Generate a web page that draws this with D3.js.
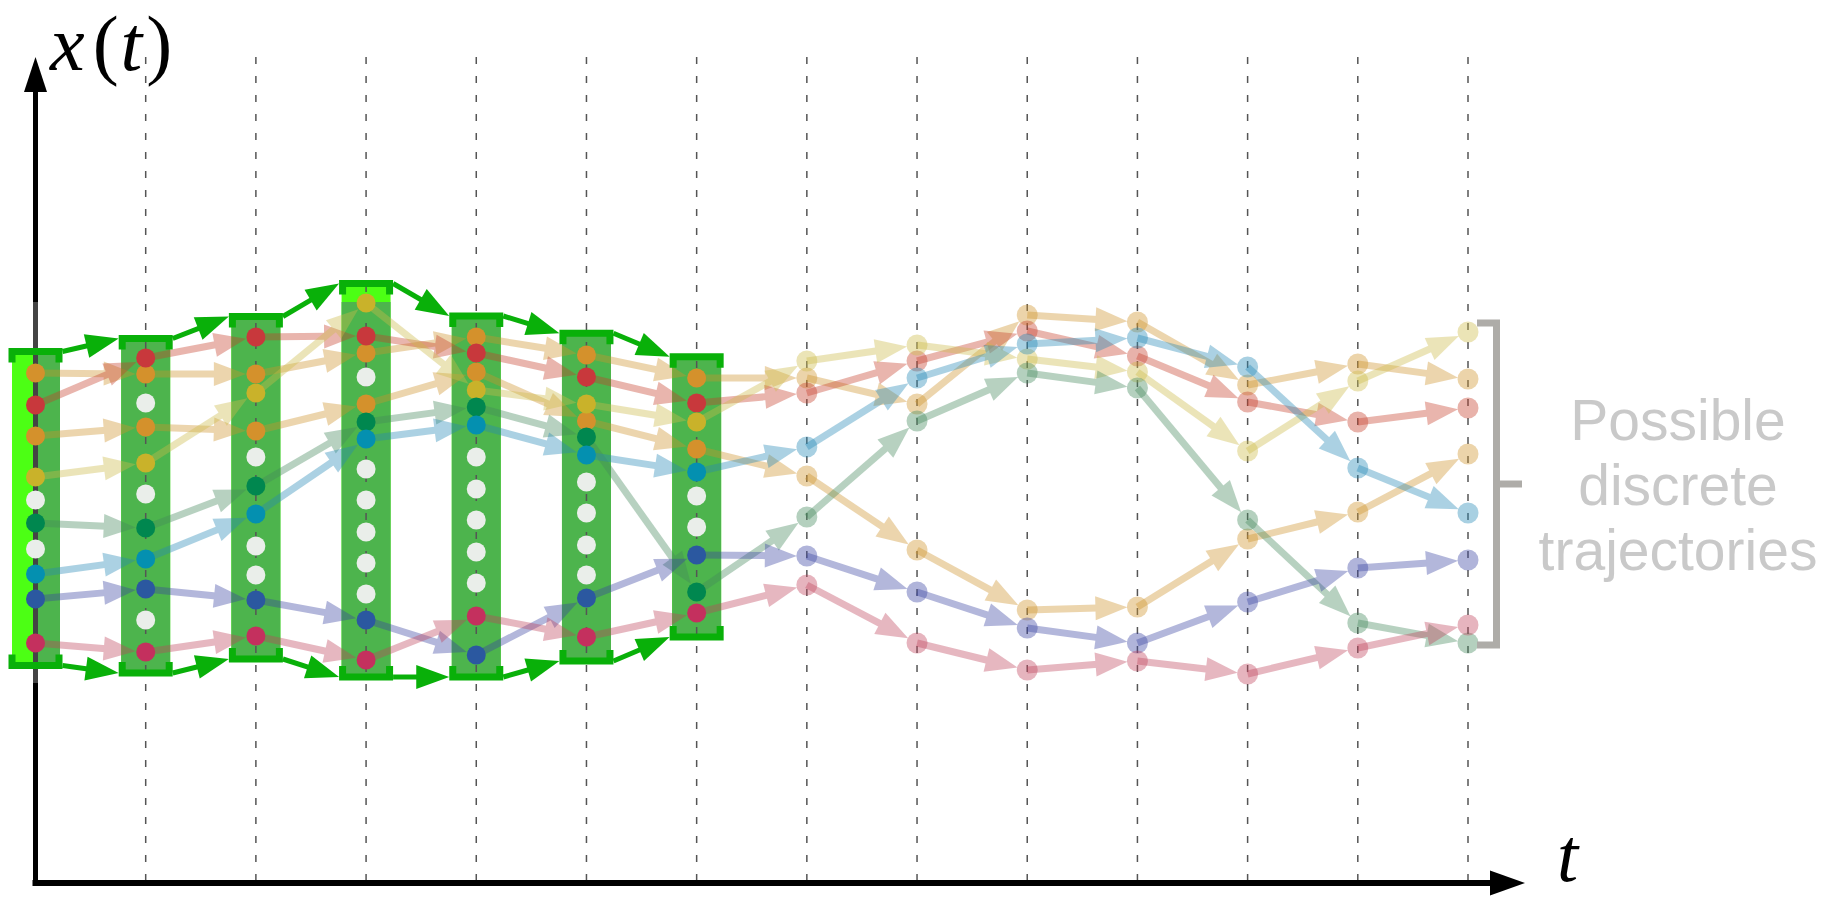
<!DOCTYPE html>
<html><head><meta charset="utf-8">
<script src="https://cdn.jsdelivr.net/npm/d3@7"></script>
<style>html,body{margin:0;padding:0;background:#fff;overflow:hidden;} svg{display:block;}</style>
</head><body>
<svg id="chart" width="1833" height="898"></svg>
<script>
// ---------------- DATA ----------------
const timeSteps = d3.range(14);              // t0 .. t13
const barSteps = d3.range(7);                // t0 .. t6 carry a discretised state column

// Trajectories: state value x(t) at each time step
const trajA = [51.0, 50.9, 50.9, 53.0, 54.6, 52.8, 50.5, 50.5, 47.9, 56.8, 56.1, 49.8, 51.9, 50.4]; // orange
const trajB = [47.8, 52.5, 54.6, 54.7, 53.0, 50.6, 48.0, 49.0, 52.2, 55.2, 52.7, 48.1, 46.1, 47.5]; // red
const trajC = [44.7, 45.6, 45.2, 47.9, 51.1, 46.2, 43.4, 40.7, 33.3, 27.3, 27.6, 34.4, 37.1, 42.9]; // orange
const trajD = [40.6, 42.0, 49.0, 58.0, 49.3, 47.9, 46.1, 52.2, 53.8, 52.4, 51.1, 43.2, 50.2, 55.1]; // olive
const trajE = [36.0, 35.5, 39.7, 46.1, 47.6, 44.6, 29.1, 36.6, 46.2, 51.0, 49.5, 36.3, 26.0, 24.0]; // green
const trajF = [30.9, 32.4, 36.9, 44.4, 45.8, 42.8, 41.1, 43.6, 50.5, 53.9, 54.5, 51.6, 41.5, 37.0]; // cyan
const trajG = [28.4, 29.4, 28.3, 26.3, 22.8, 28.5, 32.8, 32.7, 29.1, 25.5, 24.0, 28.1, 31.5, 32.3]; // blue
const trajH = [24.0, 23.1, 24.7, 22.3, 26.7, 24.6, 27.0, 29.8, 24.0, 21.3, 22.2, 20.9, 23.5, 25.8]; // magenta

const trajectories = [trajA, trajB, trajC, trajD, trajE, trajF, trajG, trajH];
const dotColors  = ["#d4912c", "#c8383c", "#d4912c", "#c9b22a", "#00874f", "#0490b0", "#2b58a0", "#c4305e"];
const lineColors = ["#cf932a", "#c63e2a", "#cf932a", "#cdbb48", "#43895c", "#2589b6", "#3943a2", "#c0435c"];

// Unoccupied discrete states in each column
const freeStates = [
  [38.3, 33.4],
  [48.0, 38.9, 26.3],
  [42.6, 33.7, 30.8],
  [50.6, 41.4, 38.3, 35.1, 32.0, 28.9],
  [42.6, 39.4, 36.3, 33.1, 30.0],
  [40.1, 37.0, 33.8, 30.8],
  [38.7, 35.6]
];

// Envelope of the reachable set at t0..t6
const envTop  = [53.15, 54.45, 56.65, 59.95, 56.7, 54.97, 52.63];
const envBot  = [21.75, 21.0, 22.4, 20.6, 20.6, 22.2, 24.6];
const coreTop = [53.15, 54.45, 56.65, 58.1, 56.7, 54.97, 52.63];

// Bracket around final states
const finalBracket = {top: 56.0, mid: 39.9, bottom: 23.8};
const yAxisHighlight = [58.1, 20.0];

const yLabel = ["x", "(", "t", ")"];
const xLabel = "t";
const noteLines = ["Possible", "discrete", "trajectories"];

// ---------------- SCALES ----------------
const xS = d3.scaleLinear().domain([0, 13]).range([35.5, 1468]);
const yS = d3.scaleLinear().domain([0, 80]).range([883, 83]);

const svg = d3.select("#chart");

const BAR_HW = 24.5, BR_HW = 27, R = 9.5;
const GREEN_DARK = "#09b009", GREEN_BRIGHT = "#4cff14", GREEN_MED = "#4db44d";
const LINE_OP = 0.38;

// ---------------- BARS ----------------
const gBars = svg.append("g");
barSteps.forEach(i => {
  const xc = xS(i);
  if (i === 0) {
    gBars.append("rect").attr("x", xc - BAR_HW + 1).attr("width", BAR_HW - 1)
      .attr("y", yS(envTop[i])).attr("height", yS(envBot[i]) - yS(envTop[i])).attr("fill", GREEN_BRIGHT);
    gBars.append("rect").attr("x", xc).attr("width", BAR_HW)
      .attr("y", yS(coreTop[i])).attr("height", yS(envBot[i]) - yS(coreTop[i])).attr("fill", GREEN_MED);
  } else {
    gBars.append("rect").attr("x", xc - BAR_HW).attr("width", 2 * BAR_HW)
      .attr("y", yS(envTop[i])).attr("height", yS(envBot[i]) - yS(envTop[i])).attr("fill", GREEN_BRIGHT);
    gBars.append("rect").attr("x", xc - BAR_HW).attr("width", 2 * BAR_HW)
      .attr("y", yS(coreTop[i])).attr("height", yS(envBot[i]) - yS(coreTop[i])).attr("fill", GREEN_MED);
  }
});

// ---------------- DASHED GRID ----------------
svg.append("g").selectAll("line").data(timeSteps.slice(1)).join("line")
  .attr("x1", d => xS(d)).attr("x2", d => xS(d))
  .attr("y1", 57).attr("y2", yS(0) - 2)
  .attr("stroke", "#555").attr("stroke-width", 1.5).attr("stroke-dasharray", "7,12");

// ---------------- Y AXIS ----------------
const gAx = svg.append("g");
gAx.append("line").attr("x1", xS(0)).attr("x2", xS(0)).attr("y1", yS(0) + 3).attr("y2", 90)
  .attr("stroke", "#000").attr("stroke-width", 5);
gAx.append("polygon").attr("points", [[xS(0), 57], [xS(0) - 11.5, 92], [xS(0) + 11.5, 92]].join(" ")).attr("fill", "#000");
gAx.append("line").attr("x1", xS(0)).attr("x2", xS(0)).attr("y1", yS(yAxisHighlight[0])).attr("y2", yS(yAxisHighlight[1]))
  .attr("stroke", "#444").attr("stroke-width", 5);

// ---------------- TRAJECTORIES ----------------
function arrowSeg(g, x1, y1, x2, y2, color, opacity, width, tipGap, len, hw) {
  const dx = x2 - x1, dy = y2 - y1, L = Math.hypot(dx, dy);
  const ux = dx / L, uy = dy / L, px = -uy, py = ux;
  const tipD = L - tipGap, baseD = tipD - len;
  const tx = x1 + ux * tipD, ty = y1 + uy * tipD;
  const bx = x1 + ux * baseD, by = y1 + uy * baseD;
  const grp = g.append("g").attr("opacity", opacity);
  grp.append("line").attr("x1", x1).attr("y1", y1).attr("x2", bx + ux * 2).attr("y2", by + uy * 2)
    .attr("stroke", color).attr("stroke-width", width);
  grp.append("polygon").attr("points", [[tx, ty], [bx + px * hw, by + py * hw], [bx - px * hw, by - py * hw]].join(" "))
    .attr("fill", color);
}

const gTraj = svg.append("g");
trajectories.forEach((tr, k) => {
  for (let i = 0; i < tr.length - 1; i++) {
    arrowSeg(gTraj, xS(i), yS(tr[i]), xS(i + 1), yS(tr[i + 1]), lineColors[k], LINE_OP, 7, 10, 32, 12);
  }
});

// ---------------- DOTS ----------------
const gDots = svg.append("g");
freeStates.forEach((col, i) => {
  col.forEach(v => gDots.append("circle").attr("cx", xS(i)).attr("cy", yS(v)).attr("r", R).attr("fill", "#eaeeea"));
});
trajectories.forEach((tr, k) => {
  tr.forEach((v, i) => {
    if (i <= 6) {
      gDots.append("circle").attr("cx", xS(i)).attr("cy", yS(v)).attr("r", R).attr("fill", dotColors[k]);
    } else {
      gDots.append("circle").attr("cx", xS(i)).attr("cy", yS(v)).attr("r", 10.5)
        .attr("fill", lineColors[k]).attr("opacity", 0.4);
    }
  });
});

// ---------------- BRACKETS + ENVELOPE ----------------
const gEnv = svg.append("g");
barSteps.forEach(i => {
  const xc = xS(i), yt = yS(envTop[i]), yb = yS(envBot[i]);
  gEnv.append("path").attr("d", `M${xc - BR_HW + 3.5},${yt + 11}V${yt}H${xc + BR_HW - 3.5}V${yt + 11}`)
    .attr("fill", "none").attr("stroke", GREEN_DARK).attr("stroke-width", 7);
  gEnv.append("path").attr("d", `M${xc - BR_HW + 3.5},${yb - 11}V${yb}H${xc + BR_HW - 3.5}V${yb - 11}`)
    .attr("fill", "none").attr("stroke", GREEN_DARK).attr("stroke-width", 7);
});
for (let i = 0; i < 6; i++) {
  arrowSeg(gEnv, xS(i) + BR_HW, yS(envTop[i]), xS(i + 1) - BR_HW, yS(envTop[i + 1]), GREEN_DARK, 1, 5, 0, 33, 12);
  arrowSeg(gEnv, xS(i) + BR_HW, yS(envBot[i]), xS(i + 1) - BR_HW, yS(envBot[i + 1]), GREEN_DARK, 1, 5, 0, 33, 12);
}

// ---------------- X AXIS ----------------
svg.append("line").attr("x1", xS(0) - 3).attr("x2", 1492).attr("y1", yS(0)).attr("y2", yS(0))
  .attr("stroke", "#000").attr("stroke-width", 6);
svg.append("polygon").attr("points", [[1525, yS(0)], [1490, yS(0) - 12.5], [1490, yS(0) + 12.5]].join(" ")).attr("fill", "#000");
gDots.raise();
gEnv.raise();

// ---------------- LABELS ----------------
const lab = svg.append("text").attr("x", 50).attr("y", 70)
  .attr("font-family", "'Liberation Serif', 'DejaVu Serif', serif").attr("font-size", 78).attr("fill", "#000");
yLabel.forEach((s, i) => {
  lab.append("tspan").text(s).attr("font-style", (s === "x" || s === "t") ? "italic" : "normal")
    .attr("dx", s === "(" ? 8 : (s === ")" ? 4 : (i === 2 ? 2 : 0)));
});
svg.append("text").attr("x", 1557).attr("y", 881).text(xLabel)
  .attr("font-family", "'Liberation Serif', 'DejaVu Serif', serif").attr("font-style", "italic")
  .attr("font-size", 76).attr("fill", "#000");

// Final bracket
const bx = 1496.5;
svg.append("path").attr("d", `M1477,${yS(finalBracket.top)}H${bx}V${yS(finalBracket.bottom)}H1477`)
  .attr("fill", "none").attr("stroke", "#aeaca8").attr("stroke-width", 7);
svg.append("line").attr("x1", bx).attr("x2", 1522).attr("y1", yS(finalBracket.mid)).attr("y2", yS(finalBracket.mid))
  .attr("stroke", "#aeaca8").attr("stroke-width", 7);

svg.append("text").attr("font-family", "'Liberation Sans', Arial, sans-serif").attr("font-size", 57)
  .attr("fill", "#c9c9c9").attr("text-anchor", "middle")
  .selectAll("tspan").data(noteLines).join("tspan")
  .attr("x", 1678).attr("y", (d, i) => 440 + i * 65).text(d => d);
</script>
</body></html>
